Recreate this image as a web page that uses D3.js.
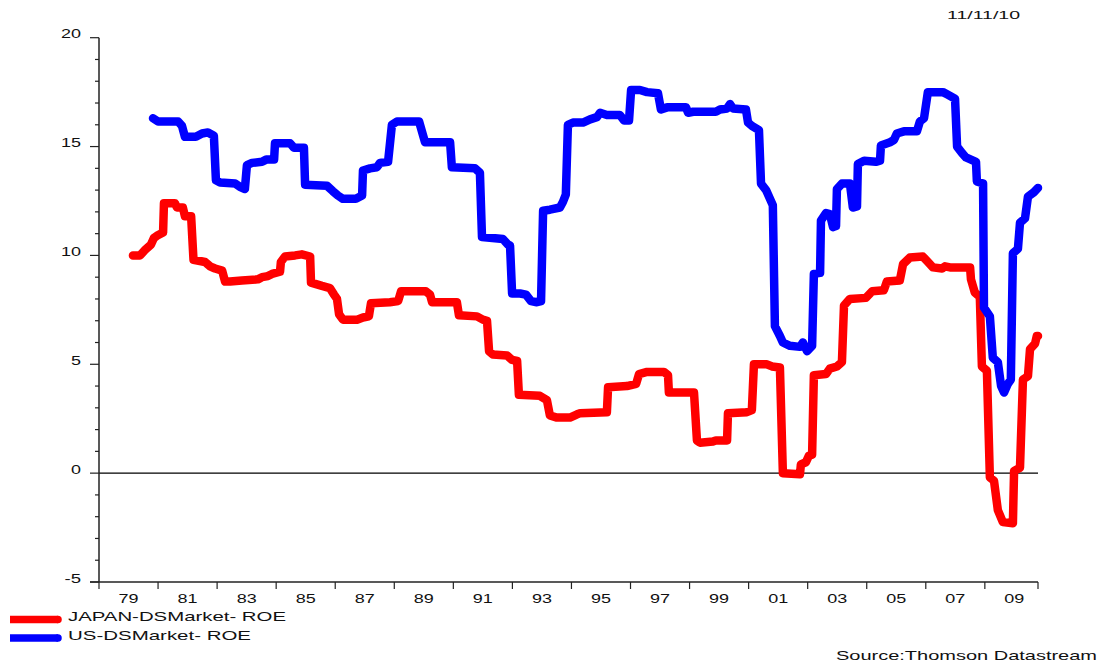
<!DOCTYPE html>
<html>
<head>
<meta charset="utf-8">
<script src="https://cdn.jsdelivr.net/npm/d3@7"></script>
<style>
  html, body { margin: 0; padding: 0; background: #fff; }
  svg { display: block; }
  text { font-family: "Liberation Sans", Arial, sans-serif; fill: #111; }
</style>
</head>
<body>
<svg id="chart" width="1101" height="663"></svg>
<script>
// ---- Data (decimal years, ROE %) ----
const jpYears = [1980.15,1980.39,1980.56,1980.76,1980.86,1980.96,1981.17,1981.20,1981.57,1981.64,1981.84,1981.91,1982.12,1982.20,1982.59,1982.76,1982.93,1983.17,1983.27,1983.44,1983.84,1984.38,1984.52,1984.72,1984.86,1985.13,1985.16,1985.30,1985.64,1985.87,1986.15,1986.18,1986.55,1986.82,1986.96,1987.06,1987.13,1987.26,1987.74,1987.94,1988.14,1988.21,1988.85,1989.13,1989.23,1990.07,1990.21,1990.28,1991.12,1991.19,1991.80,1992.00,1992.14,1992.21,1992.34,1992.82,1992.99,1993.16,1993.22,1993.93,1994.17,1994.27,1994.51,1994.95,1995.19,1995.29,1996.20,1996.24,1996.88,1997.19,1997.29,1997.56,1998.13,1998.27,1998.30,1999.15,1999.25,1999.35,1999.79,1999.89,2000.27,2000.30,2000.94,2001.11,2001.18,2001.62,2001.79,2002.06,2002.16,2002.74,2002.77,2002.94,2003.04,2003.15,2003.21,2003.62,2003.75,2003.99,2004.16,2004.23,2004.43,2004.97,2005.18,2005.58,2005.68,2006.12,2006.23,2006.46,2006.90,2007.07,2007.24,2007.55,2007.65,2007.82,2008.50,2008.53,2008.66,2008.83,2008.90,2009.07,2009.17,2009.31,2009.44,2009.61,2009.95,2009.99,2010.19,2010.29,2010.46,2010.53,2010.70,2010.76,2010.80];
const jpValues = [10.0,10.0,10.25,10.5,10.8,10.9,11.05,12.4,12.4,12.2,12.2,11.8,11.8,9.8,9.7,9.5,9.4,9.3,8.8,8.8,8.85,8.9,9.0,9.05,9.15,9.25,9.7,9.95,10.0,10.05,9.95,8.75,8.6,8.5,8.2,8.0,7.3,7.05,7.05,7.15,7.2,7.8,7.85,7.9,8.35,8.35,8.2,7.85,7.85,7.25,7.2,7.05,7.0,5.6,5.45,5.4,5.2,5.15,3.6,3.55,3.35,2.65,2.55,2.55,2.7,2.75,2.8,3.95,4.0,4.1,4.55,4.65,4.65,4.5,3.7,3.7,1.5,1.4,1.45,1.5,1.5,2.75,2.8,2.9,5.0,5.0,4.9,4.85,0.0,-0.05,0.4,0.5,0.8,0.85,4.5,4.55,4.8,4.9,5.1,7.7,8.0,8.05,8.35,8.4,8.8,8.85,9.6,9.9,9.95,9.7,9.45,9.4,9.5,9.45,9.45,8.9,8.3,8.1,4.9,4.7,-0.2,-0.35,-1.7,-2.25,-2.3,0.1,0.25,4.3,4.45,5.7,5.95,6.3,6.3];

const usYears = [1980.83,1981.00,1981.68,1981.81,1981.91,1982.28,1982.49,1982.69,1982.89,1982.96,1983.10,1983.61,1983.77,1983.94,1984.01,1984.18,1984.52,1984.66,1984.93,1984.96,1985.47,1985.60,1985.94,1985.98,1986.72,1986.92,1987.09,1987.26,1987.70,1987.91,1987.94,1988.18,1988.41,1988.52,1988.79,1988.92,1989.09,1989.84,1990.04,1990.89,1990.95,1991.73,1991.90,1991.97,1992.68,1992.85,1992.92,1992.99,1993.26,1993.46,1993.63,1993.83,1993.97,1994.04,1994.27,1994.61,1994.71,1994.81,1994.88,1995.05,1995.39,1995.63,1995.86,1995.97,1996.20,1996.64,1996.78,1996.95,1997.02,1997.32,1997.56,1997.93,1998.03,1998.24,1998.88,1998.95,1999.12,1999.89,2000.03,2000.27,2000.37,2000.47,2000.91,2000.98,2001.11,2001.35,2001.42,2001.59,2001.82,2001.89,2002.06,2002.16,2002.40,2002.74,2002.84,2002.98,2003.15,2003.21,2003.42,2003.45,2003.62,2003.75,2003.86,2003.96,2003.99,2004.16,2004.43,2004.53,2004.67,2004.70,2004.91,2005.31,2005.45,2005.48,2005.79,2005.92,2006.02,2006.26,2006.70,2006.80,2006.94,2007.07,2007.58,2007.72,2007.99,2008.06,2008.23,2008.36,2008.70,2008.73,2008.94,2008.97,2009.17,2009.27,2009.44,2009.55,2009.65,2009.78,2009.88,2009.95,2010.12,2010.19,2010.36,2010.46,2010.66,2010.80];
const usValues = [16.3,16.15,16.15,15.95,15.45,15.45,15.6,15.65,15.5,13.45,13.35,13.3,13.15,13.05,14.15,14.25,14.3,14.4,14.4,15.15,15.15,14.95,14.95,13.25,13.2,12.95,12.75,12.6,12.6,12.75,13.9,14.0,14.05,14.25,14.3,16.0,16.15,16.15,15.2,15.2,14.05,14.0,13.8,10.85,10.75,10.5,10.45,8.25,8.25,8.2,7.9,7.85,7.9,12.05,12.1,12.2,12.45,12.8,16.0,16.1,16.1,16.25,16.35,16.55,16.45,16.45,16.2,16.2,17.6,17.6,17.5,17.45,16.7,16.8,16.8,16.55,16.6,16.6,16.7,16.75,16.95,16.75,16.7,16.1,15.95,15.75,13.3,13.0,12.3,6.75,6.3,6.0,5.85,5.8,6.0,5.6,5.85,9.15,9.2,11.6,11.95,11.9,11.3,11.35,13.05,13.3,13.3,12.2,12.25,14.2,14.35,14.3,14.35,15.05,15.2,15.3,15.6,15.7,15.7,16.15,16.3,17.5,17.5,17.4,17.2,15.0,14.7,14.5,14.3,13.4,13.3,7.6,7.2,5.3,5.1,4.0,3.7,4.1,4.3,10.1,10.3,11.5,11.7,12.7,12.9,13.1];

const yTickValues = [-5, 0, 5, 10, 15, 20];
const xTickYears = [1979,1981,1983,1985,1987,1989,1991,1993,1995,1997,1999,2001,2003,2005,2007,2009];
const xTickLabels = ["79","81","83","85","87","89","91","93","95","97","99","01","03","05","07","09"];
const seriesNames = ["JAPAN-DSMarket- ROE", "US-DSMarket- ROE"];
const seriesColors = ["#ff0000", "#0000ff"];
const dateLabel = "11/11/10";
const sourceLabel = "Source:Thomson Datastream";
const xStart = 1979, xEnd = 2010.8;

// ---- Layout ----
const svg = d3.select("#chart");
const x = d3.scaleLinear().domain([xStart, xEnd]).range([99, 1038]);
const y = d3.scaleLinear().domain([-5, 20]).range([582, 37.7]);

function label(g, px, py, str, size, len, anchor) {
  return g.append("text")
    .attr("x", px).attr("y", py)
    .attr("font-size", size)
    .attr("text-anchor", anchor || "start")
    .attr("textLength", len)
    .attr("lengthAdjust", "spacingAndGlyphs")
    .text(str);
}

// zero line
svg.append("line")
  .attr("x1", x(xStart)).attr("x2", x(xEnd))
  .attr("y1", y(0)).attr("y2", y(0))
  .attr("stroke", "#000").attr("stroke-width", 1.2);

// y axis
const yAxis = svg.append("g");
yAxis.append("line").attr("x1", 99).attr("x2", 99).attr("y1", y(20)).attr("y2", y(-5))
  .attr("stroke", "#222").attr("stroke-width", 1.5);
d3.range(-5, 21, 1).forEach(v => {
  const major = v % 5 === 0;
  yAxis.append("line").attr("x1", major ? 90 : 95).attr("x2", 99)
    .attr("y1", y(v)).attr("y2", y(v)).attr("stroke", "#222").attr("stroke-width", 1.2);
});
yTickValues.forEach(v => {
  const s = String(v);
  const len = s.split("").reduce((a, c) => a + (c === "-" ? 6.5 : 10), 0);
  label(yAxis, 81, y(v) + 0.5, s, 12, len, "end");
});

// x axis
const xAxis = svg.append("g");
xAxis.append("line").attr("x1", x(xStart) - 9).attr("x2", x(xEnd)).attr("y1", 582).attr("y2", 582)
  .attr("stroke", "#222").attr("stroke-width", 1.5);
xTickYears.concat([xEnd]).forEach(t => {
  xAxis.append("line").attr("x1", x(t)).attr("x2", x(t)).attr("y1", 582).attr("y2", 589)
    .attr("stroke", "#222").attr("stroke-width", 1.2);
});
xTickYears.forEach((t, i) => {
  label(xAxis, x(t + 1), 603, xTickLabels[i], 12, 20, "middle");
});

// series
const line = d3.line().x(d => x(d[0])).y(d => y(d[1]));
const series = [
  d3.zip(jpYears, jpValues),
  d3.zip(usYears, usValues)
];
series.forEach((data, i) => {
  svg.append("path").datum(data)
    .attr("d", line)
    .attr("fill", "none")
    .attr("stroke", seriesColors[i])
    .attr("stroke-width", 8.5)
    .attr("stroke-linejoin", "round")
    .attr("stroke-linecap", "round");
});

// legend
const legend = svg.append("g");
const legendY = [619.5, 638];
const legendLen = [218, 183];
seriesNames.forEach((n, i) => {
  legend.append("line").attr("x1", 10).attr("x2", 58)
    .attr("y1", legendY[i]).attr("y2", legendY[i])
    .attr("stroke", seriesColors[i]).attr("stroke-width", 7.5).attr("stroke-linecap", "butt");
  legend.append("circle").attr("cx", 58).attr("cy", legendY[i]).attr("r", 3.75).attr("fill", seriesColors[i]);
  label(legend, 68, legendY[i] + 1.5, n, 13.5, legendLen[i], "start");
});

// date & source
label(svg, 947, 18.5, dateLabel, 10, 73, "start");
label(svg, 836, 659.5, sourceLabel, 13, 261, "start");
</script>
</body>
</html>
